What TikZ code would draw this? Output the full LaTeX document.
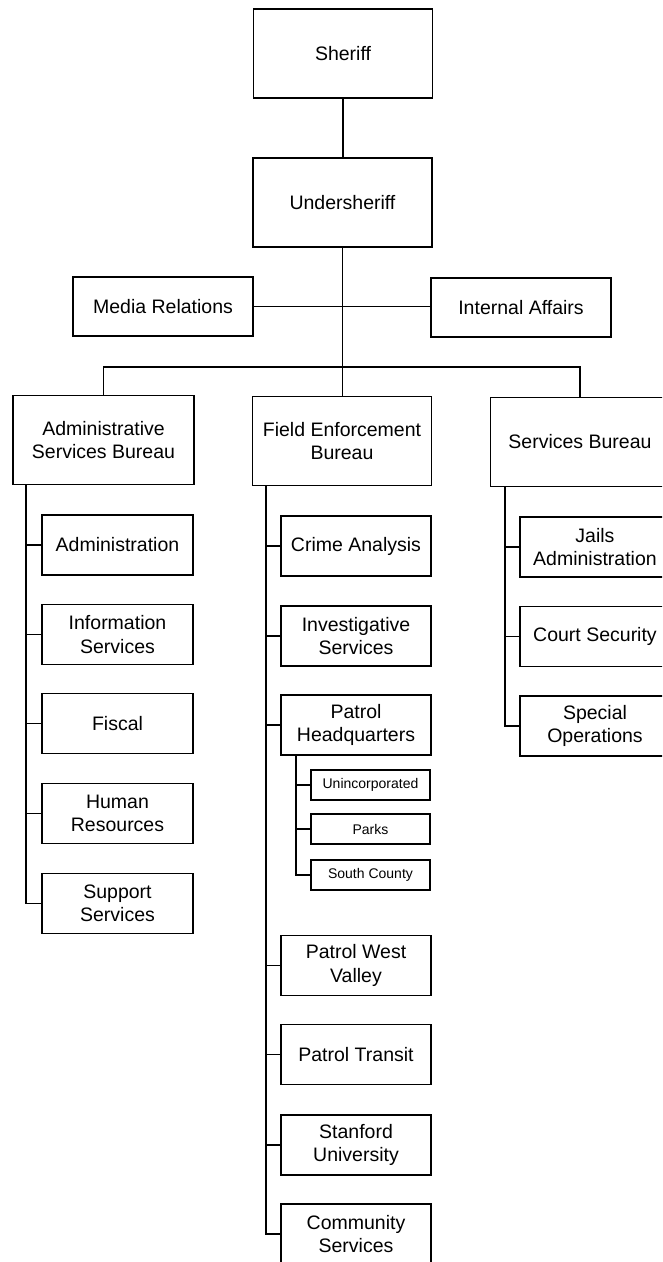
\documentclass[tikz,border=0pt]{standalone}
\usepackage{fontspec}
\setmainfont{Liberation Sans}
\begin{document}
\begin{tikzpicture}[x=1pt,y=-1pt,
  box/.style={draw, line width=1.8pt, inner sep=0pt, align=center, fill=white,
    font=\fontsize{19.5}{23.5}\selectfont},
  big/.style={box, minimum width=179pt, minimum height=89pt},
  mid/.style={box, minimum width=180pt, minimum height=59pt},
  sub/.style={box, minimum width=151pt, minimum height=60pt},
  tiny/.style={box, minimum width=119pt, minimum height=30pt,
    font=\fontsize{14}{16}\selectfont},
  link/.style={line width=1.8pt}]
\useasboundingbox (0,0) rectangle (662,1262);
\clip (0,0) rectangle (662,1262);
% top
\node[big] (sh) at (343,53.5) {Sheriff};
\node[big] (us) at (342.5,202.5) {Undersheriff};
\node[mid] (mr) at (163,306.5) {Media Relations};
\node[mid] (ia) at (521,307.5) {Internal Affairs};
% bureaus
\node[big, minimum width=181pt] (asb) at (103.5,440) {Administrative\\Services Bureau};
\node[big] (feb) at (342,441) {Field Enforcement\\Bureau};
\node[big] (sb) at (580,442) {Services Bureau};
% administrative column
\node[sub] (a1) at (117.5,545) {Administration};
\node[sub] (a2) at (117.5,634.5) {Information\\Services};
\node[sub] (a3) at (117.5,723.5) {Fiscal};
\node[sub] (a4) at (117.5,813.5) {Human\\Resources};
\node[sub] (a5) at (117.5,903.5) {Support\\Services};
% field column
\node[sub, minimum width=150pt] (f1) at (356,546) {Crime Analysis};
\node[sub, minimum width=150pt] (f2) at (356,636) {Investigative\\Services};
\node[sub, minimum width=150pt] (f3) at (356,725) {Patrol\\Headquarters};
\node[tiny] (p1) at (370.5,785) {Unincorporated};
\node[tiny] (p2) at (370.5,829) {Parks};
\node[tiny] (p3) at (370.5,875) {South County};
\node[sub, minimum width=150pt] (f4) at (356,965.5) {Patrol West\\Valley};
\node[sub, minimum width=150pt] (f5) at (356,1054.5) {Patrol Transit};
\node[sub, minimum width=150pt] (f6) at (356,1145) {Stanford\\University};
\node[sub, minimum width=150pt] (f7) at (356,1234) {Community\\Services};
% services column
\node[sub, minimum width=150pt] (s1) at (595,547) {Jails\\Administration};
\node[sub, minimum width=150pt] (s2) at (595,636.5) {Court Security};
\node[sub, minimum width=150pt] (s3) at (595,726) {Special\\Operations};
% connectors
\draw[link] (sh.south) -- (sh.south |- us.north);
\draw[link] (us.south) -- (us.south |- feb.north);
\draw[link] (mr.east) -- (mr.east -| ia.west);
\coordinate (bus) at (343,367);
\draw[link] (asb.north) |- (bus) -| (sb.north);
\coordinate (asp) at ([xshift=14pt]asb.south west);
\foreach \n in {a1,a2,a3,a4,a5} \draw[link] (asp) |- (\n.west);
\coordinate (fsp) at ([xshift=14.5pt]feb.south west);
\foreach \n in {f1,f2,f3,f4,f5,f6,f7} \draw[link] (fsp) |- (\n.west);
\coordinate (psp) at ([xshift=16pt]f3.south west);
\foreach \n in {p1,p2,p3} \draw[link] (psp) |- (\n.west);
\coordinate (ssp) at ([xshift=15pt]sb.south west);
\foreach \n in {s1,s2,s3} \draw[link] (ssp) |- (\n.west);
\end{tikzpicture}
\end{document}
